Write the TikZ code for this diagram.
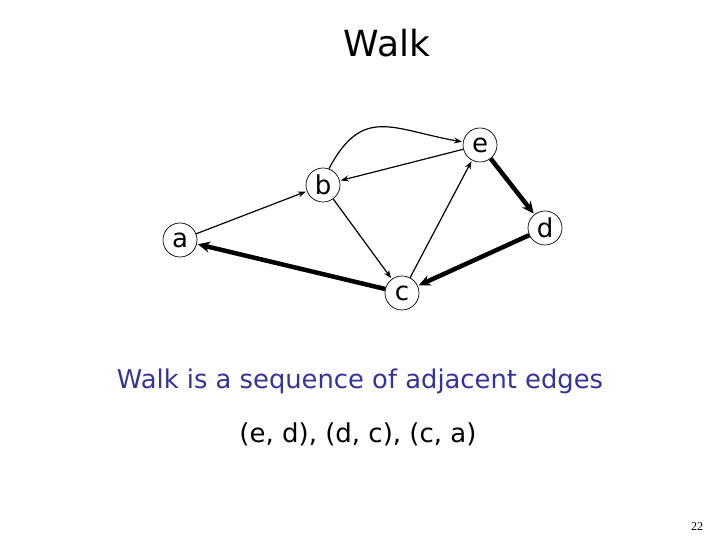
\documentclass[tikz,border=0pt]{standalone}
\usepackage{fontspec}
\setmainfont{DejaVu Sans}
\newfontfamily\numfont{Liberation Serif}
\definecolor{WalkBlue}{HTML}{333399}
\usetikzlibrary{arrows.meta}

\begin{document}
\begin{tikzpicture}[>=Stealth, x=1pt, y=1pt,
  vtx/.style={draw, circle, minimum size=34pt, inner sep=0pt, line width=0.7pt, font=\fontsize{26}{26}\selectfont},
  edge/.style={->, line width=1.2pt, shorten >=1pt, >={Stealth[length=8pt, width=6pt]}},
  walk/.style={->, line width=4.5pt, shorten >=1pt, >={Stealth[length=12pt, width=11pt]}}]
  \useasboundingbox (0,0) rectangle (720,540);
  % title
  \node[font=\fontsize{36}{36}\selectfont] (title) at (387,497) {Walk};
  % vertices
  \node[vtx] (a) at (180,300) {a};
  \node[vtx] (b) at (323,355) {b};
  \node[vtx] (e) at (480,395) {e};
  \node[vtx] (d) at (545,312) {d};
  \node[vtx] (c) at (402,247) {c};
  % thin edges
  \draw[edge] (a) -- (b);
  \draw[edge] (e) -- (b);
  \draw[edge] (b) -- (c);
  \draw[edge] (c) -- (e);
  \draw[edge] (b.70) to[out=62, in=170, looseness=1.35] (e);
  % the walk
  \draw[walk] (e) -- (d);
  \draw[walk] (d) -- (c);
  \draw[walk] (c) -- (a);
  % text
  \node[text=WalkBlue, font=\fontsize{25.8}{26}\selectfont] (def) at (360,159) {Walk is a sequence of adjacent edges};
  \node[font=\fontsize{26}{26}\selectfont] (seq) at (358,106) {(e, d), (d, c), (c, a)};
  \node[font=\numfont\fontsize{12}{12}\selectfont] (page) at (697,13) {22};
\end{tikzpicture}
\end{document}
